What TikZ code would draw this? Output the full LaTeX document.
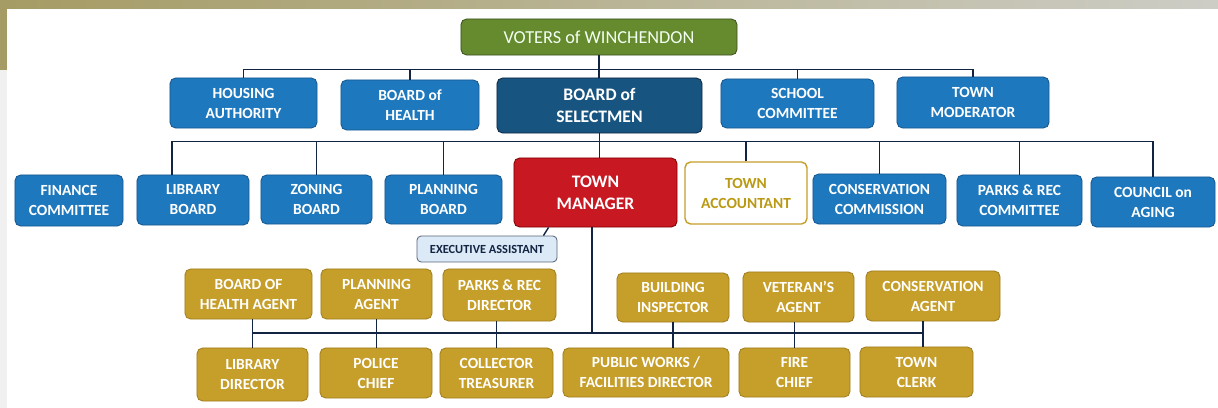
\documentclass[tikz,border=0pt]{standalone}
\usepackage{fontspec}
\setmainfont{Carlito}
\usepackage{tikz}
\usetikzlibrary{positioning}
\definecolor{wngreen}{RGB}{102,138,46}
\definecolor{wngreenline}{RGB}{60,80,30}
\definecolor{wnblue}{RGB}{30,120,190}
\definecolor{wnblueline}{RGB}{22,86,140}
\definecolor{wndark}{RGB}{24,84,128}
\definecolor{wnred}{RGB}{200,24,34}
\definecolor{wngold}{RGB}{198,158,42}
\definecolor{wngoldline}{RGB}{160,125,30}
\definecolor{wngoldtext}{RGB}{186,154,20}
\definecolor{wnpale}{RGB}{220,233,246}
\definecolor{wnnavy}{RGB}{18,36,66}
\definecolor{wnolive}{RGB}{165,155,100}
\definecolor{wngrey}{RGB}{205,205,198}
\tikzset{
  box/.style={rounded corners=4pt, align=center, inner sep=0pt, line width=0.6pt,
    text=white, font=\bfseries\fontsize{11}{14.2}\selectfont},
  board/.style={box, fill=wnblue, draw=wnblueline},
  staff/.style={box, fill=wngold, draw=wngoldline},
  link/.style={wnnavy, line width=1.4pt}
}

\begin{document}
\begin{tikzpicture}[x=0.025cm, y=-0.025cm]
\useasboundingbox (0,0) rectangle (1218,408);
% -- paper edge --
\fill[left color=wnolive, right color=wngrey] (0,0) rectangle (1218,8);
\fill[wnolive] (0,0) rectangle (7,70);
\fill[gray!12] (0,70) rectangle (7,408);
% -- Top: voters and elected boards --
\node[box, minimum width=6.9cm, minimum height=0.9cm, fill=wngreen, draw=wngreenline,
  text=green!5!white, font=\fontsize{13}{15}\selectfont] (voters) at (599,37) {VOTERS of WINCHENDON};
\node[board, minimum width=3.675cm, minimum height=1.25cm] (housing) at (243.5,103) {HOUSING\\AUTHORITY};
\node[board, minimum width=3.45cm, minimum height=1.25cm] (bohealth) at (410,105) {BOARD of\\HEALTH};
\node[box, minimum width=5.125cm, minimum height=1.375cm, fill=wndark, draw=wnnavy,
  font=\bfseries\fontsize{12.5}{15.4}\selectfont] (selectmen) at (599.5,105.5) {BOARD of\\SELECTMEN};
\node[board, minimum width=3.825cm, minimum height=1.225cm] (school) at (797.5,103.5) {SCHOOL\\COMMITTEE};
\node[board, minimum width=3.8cm, minimum height=1.275cm] (moderator) at (973,102.5) {TOWN\\MODERATOR};
% -- Middle: appointed boards --
\node[board, minimum width=2.7cm, minimum height=1.275cm] (finance) at (69,200.5) {FINANCE\\COMMITTEE};
\node[board, minimum width=2.8cm, minimum height=1.25cm] (library) at (193,200) {LIBRARY\\BOARD};
\node[board, minimum width=2.775cm, minimum height=1.225cm] (zoning) at (316.5,199.5) {ZONING\\BOARD};
\node[board, minimum width=2.925cm, minimum height=1.225cm] (planning) at (443.5,199.5) {PLANNING\\BOARD};
\node[box, minimum width=4.075cm, minimum height=1.725cm, fill=wnred, draw=red!50!black,
  font=\bfseries\fontsize{12.5}{15.4}\selectfont] (manager) at (595.5,192.5) {TOWN\\MANAGER};
\node[box, minimum width=3.05cm, minimum height=1.55cm, fill=white, draw=wngold, line width=1pt,
  text=wngoldtext] (accountant) at (746,193) {TOWN\\ACCOUNTANT};
\node[board, minimum width=3.325cm, minimum height=1.25cm] (conscomm) at (879.5,199) {CONSERVATION\\COMMISSION};
\node[board, minimum width=3.125cm, minimum height=1.275cm] (parkscomm) at (1019.5,200.5) {PARKS \& REC\\COMMITTEE};
\node[board, minimum width=3.1cm, minimum height=1.25cm] (aging) at (1153,202) {COUNCIL on\\AGING};
\node[box, minimum width=3.5cm, minimum height=0.65cm, rounded corners=3pt, fill=wnpale,
  draw=wnnavy!70, text=wnnavy, font=\bfseries\fontsize{8.8}{10}\selectfont] (exec) at (487,249) {EXECUTIVE ASSISTANT};
% -- Bottom: department heads --
\node[staff, minimum width=3.175cm, minimum height=1.25cm] (bohagent) at (248.5,294) {BOARD OF\\HEALTH AGENT};
\node[staff, minimum width=2.775cm, minimum height=1.25cm] (planagent) at (376.5,294) {PLANNING\\AGENT};
\node[staff, minimum width=2.825cm, minimum height=1.3cm] (parksdir) at (499.5,295) {PARKS \& REC\\DIRECTOR};
\node[staff, minimum width=2.8cm, minimum height=1.225cm] (building) at (673,297.5) {BUILDING\\INSPECTOR};
\node[staff, minimum width=2.775cm, minimum height=1.25cm] (veteran) at (798.5,297) {VETERAN'S\\AGENT};
\node[staff, minimum width=3.35cm, minimum height=1.25cm] (consagent) at (933,296) {CONSERVATION\\AGENT};
\node[staff, minimum width=2.775cm, minimum height=1.325cm] (libdir) at (252.5,374.5) {LIBRARY\\DIRECTOR};
\node[staff, minimum width=2.8cm, minimum height=1.25cm] (police) at (376,373) {POLICE\\CHIEF};
\node[staff, minimum width=2.825cm, minimum height=1.25cm] (collector) at (496.5,373) {COLLECTOR\\TREASURER};
\node[staff, minimum width=4.15cm, minimum height=1.225cm] (publicworks) at (646,372.5) {PUBLIC WORKS /\\FACILITIES DIRECTOR};
\node[staff, minimum width=2.775cm, minimum height=1.225cm] (fire) at (794.5,372.5) {FIRE\\CHIEF};
\node[staff, minimum width=2.825cm, minimum height=1.25cm] (clerk) at (916.5,372) {TOWN\\CLERK};
% -- connectors --
\coordinate (busA) at (0,69.5);
\coordinate (busB) at (0,141.5);
\coordinate (busC) at (0,333);
\coordinate (libtop) at (172,175);
\coordinate (mgrfoot) at (592,227);
\coordinate (cafoot) at (923,321);
\draw[link] (voters.south) -- (voters.south |- selectmen.north);
\draw[link] (housing.north) |- (moderator.north |- busA) -- (moderator.north);
\draw[link] (bohealth.north) -- (bohealth.north |- busA);
\draw[link] (school.north) -- (school.north |- busA);
\draw[link] (selectmen.south) -- (selectmen.south |- manager.north);
\draw[link] (libtop) |- (aging.north |- busB) -- (aging.north);
\foreach \n in {zoning, planning, accountant, conscomm, parkscomm}
  \draw[link] (\n.north) -- (\n.north |- busB);
\draw[link] (mgrfoot) -- (mgrfoot |- busC);
\draw[link] (libdir.north |- busC) -- (cafoot |- busC);
\draw[link] (libdir.north |- bohagent.south) -- (libdir.north);
\draw[link] (planagent.south) -- (planagent.south |- police.north);
\draw[link] (collector.north |- parksdir.south) -- (collector.north);
\draw[link] (building.south) -- (building.south |- publicworks.north);
\draw[link] (fire.north |- veteran.south) -- (fire.north);
\draw[link] (cafoot) -- (cafoot |- clerk.north);
\draw[link, line width=1pt] ([xshift=0.875cm]manager.south west) -- ([xshift=-0.35cm]exec.north east);
\end{tikzpicture}
\end{document}
